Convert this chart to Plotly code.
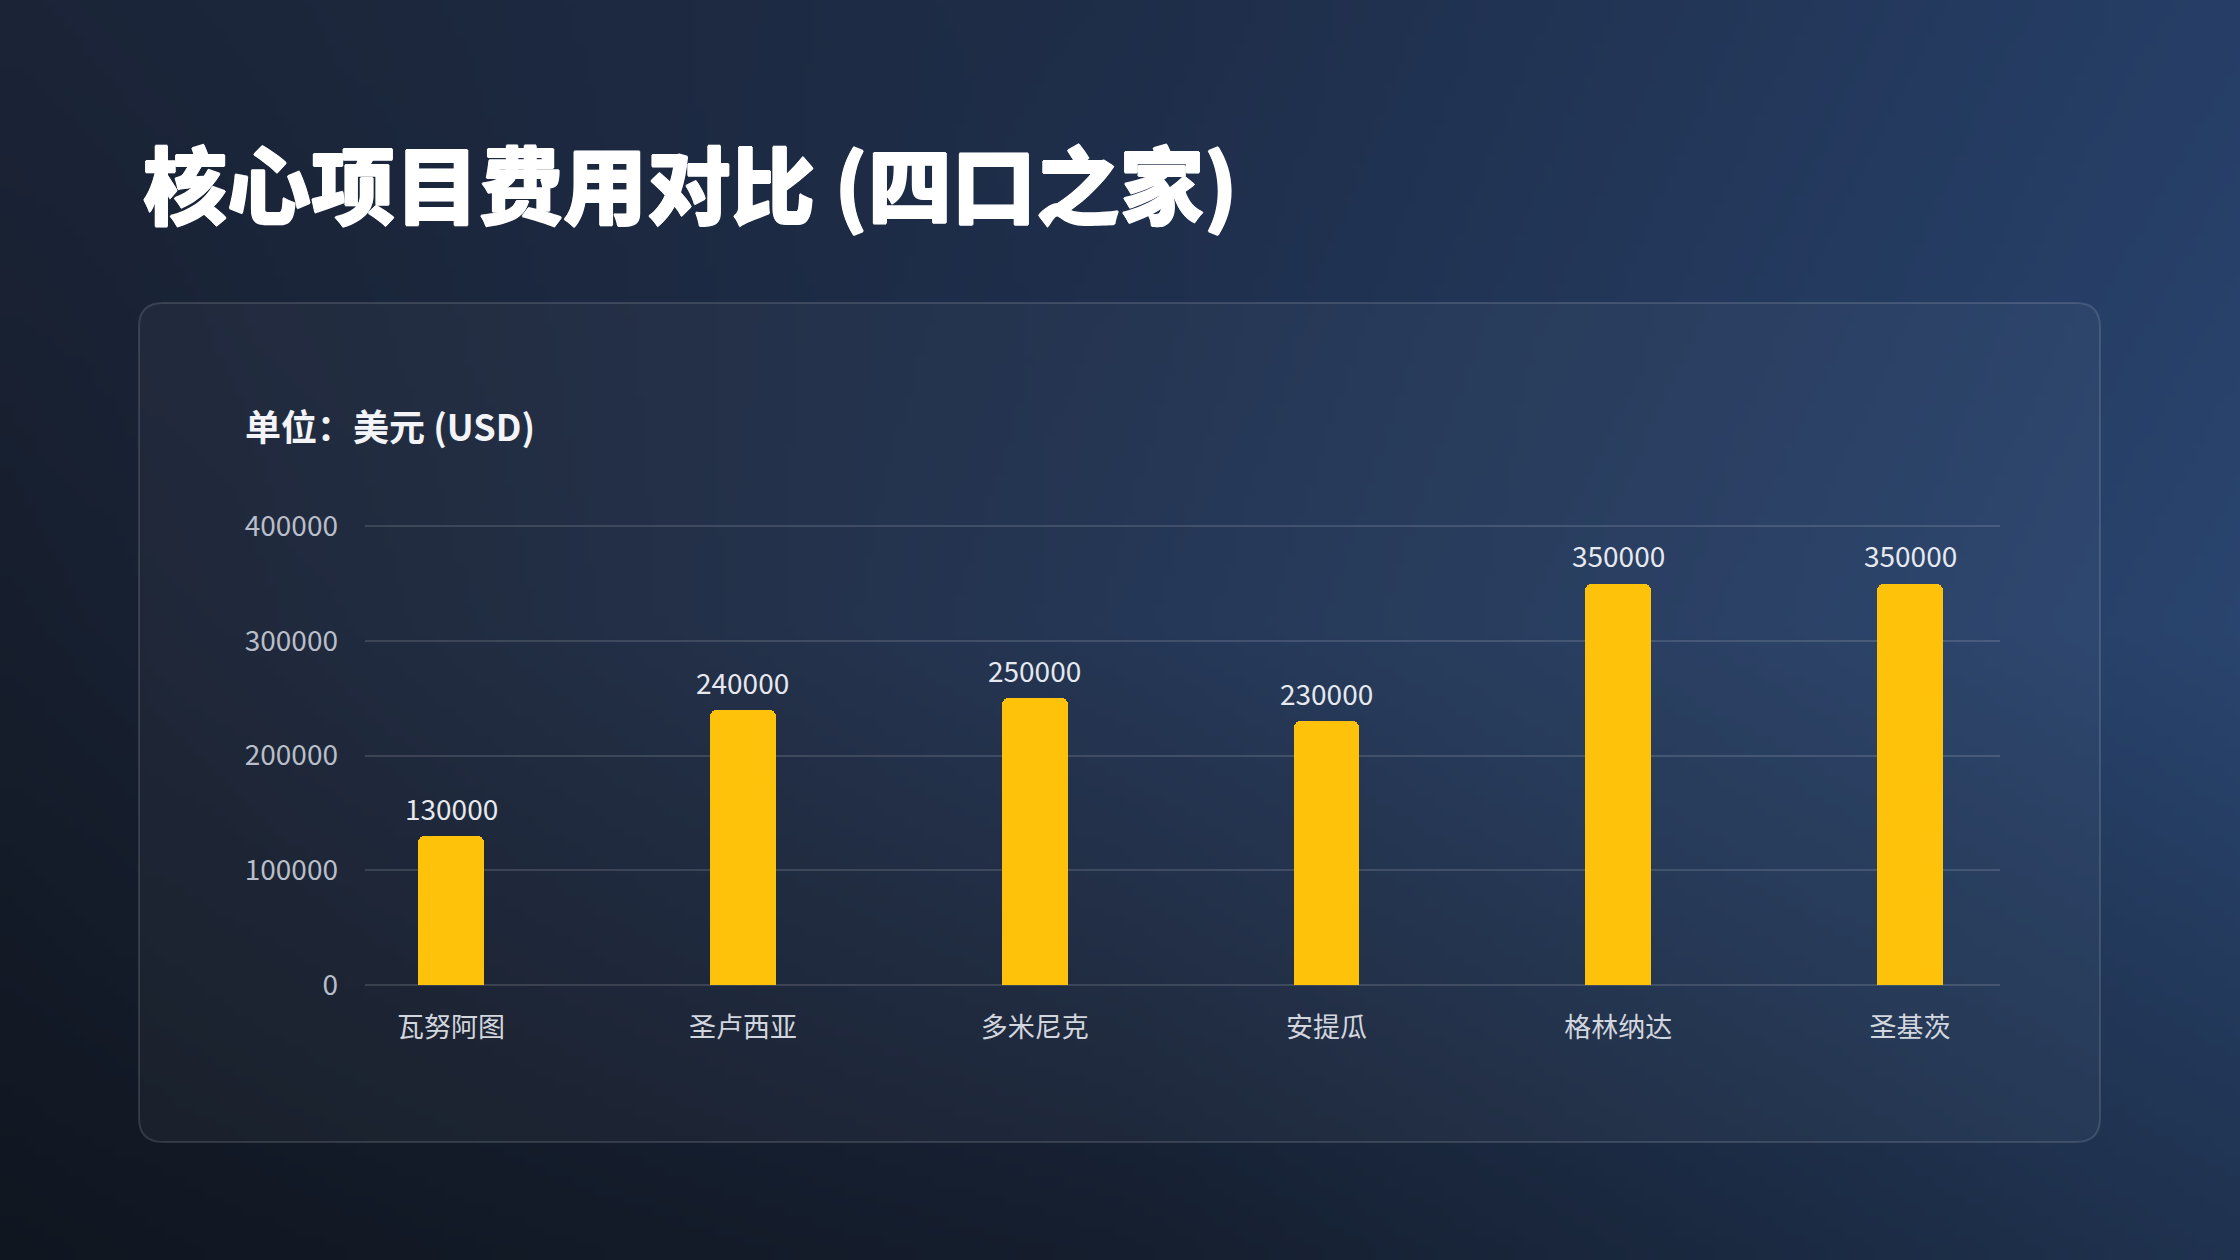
import base64
import struct
import zlib

import plotly.graph_objects as go

# ---- data -------------------------------------------------------------------
countries = ["瓦努阿图", "圣卢西亚", "多米尼克", "安提瓜", "格林纳达", "圣基茨"]
costs = [130000, 240000, 250000, 230000, 350000, 350000]
y_ticks = [0, 100000, 200000, 300000, 400000]

W, H = 2240, 1260
FONT = "Noto Sans CJK SC"


def px(x):
    return x / W


def py(y):
    return 1 - y / H


# ---- background gradient as a tiny png (no PIL around) -----------------------
grid = [
    [(0x1b, 0x24, 0x37), (0x1e, 0x2d, 0x48), (0x26, 0x3e, 0x66)],
    [(0x16, 0x1e, 0x2d), (0x1e, 0x30, 0x50), (0x29, 0x44, 0x6e)],
    [(0x10, 0x16, 0x20), (0x15, 0x1e, 0x2e), (0x1f, 0x32, 0x4f)],
]


def lerp(a, b, t):
    return tuple(a[k] + (b[k] - a[k]) * t for k in range(3))


def grad(u, v):
    # bilinear over the 3x3 grid
    gx, gy = u * 2, v * 2
    i, j = min(int(gx), 1), min(int(gy), 1)
    tx, ty = gx - i, gy - j
    top = lerp(grid[j][i], grid[j][i + 1], tx)
    bot = lerp(grid[j + 1][i], grid[j + 1][i + 1], tx)
    return tuple(int(round(c)) for c in lerp(top, bot, ty))


def png_uri(w, h):
    raw = bytearray()
    for j in range(h):
        raw.append(0)
        for i in range(w):
            raw.extend(grad(i / (w - 1), j / (h - 1)))

    def chunk(tag, data):
        body = tag + data
        return struct.pack(">I", len(data)) + body + struct.pack(">I", zlib.crc32(body) & 0xFFFFFFFF)

    png = b"\x89PNG\r\n\x1a\n"
    png += chunk(b"IHDR", struct.pack(">IIBBBBB", w, h, 8, 2, 0, 0, 0))
    png += chunk(b"IDAT", zlib.compress(bytes(raw), 9))
    png += chunk(b"IEND", b"")
    return "data:image/png;base64," + base64.b64encode(png).decode()


# ---- rounded panel path in paper coords --------------------------------------
def rounded_rect(x0, y0, x1, y1, r):
    rx, ry = r / W, r / H
    a, b, c, d = px(x0), py(y1), px(x1), py(y0)  # left, bottom, right, top
    return (
        f"M {a + rx},{d} L {c - rx},{d} Q {c},{d} {c},{d - ry} "
        f"L {c},{b + ry} Q {c},{b} {c - rx},{b} "
        f"L {a + rx},{b} Q {a},{b} {a},{b + ry} "
        f"L {a},{d - ry} Q {a},{d} {a + rx},{d} Z"
    )


fig = go.Figure()

fig.add_trace(go.Bar(
    x=list(range(len(countries))),
    y=costs,
    width=0.226,
    marker=dict(color="#FFC20A", cornerradius=7, line=dict(width=0)),
    hovertemplate="%{y}<extra></extra>",
    showlegend=False,
))

# value labels above bars
for i, v in enumerate(costs):
    fig.add_annotation(
        x=i, y=v, text=str(v), showarrow=False, yshift=28,
        font=dict(family=FONT, size=28, color="#e6e9ef"),
    )

# heavy title: bold + a hairline white outline to get closer to the black weight
fig.add_annotation(
    xref="paper", yref="paper", x=px(141), y=py(182),
    xanchor="left", yanchor="middle", showarrow=False,
    text="核心项目费用对比 (四口之家)",
    font=dict(
        family=FONT, size=84, color="#ffffff", weight=900,
        shadow="0.8px 0 0 #fff, -0.8px 0 0 #fff, 0 0.8px 0 #fff, 0 -0.8px 0 #fff",
    ),
)
fig.add_annotation(
    xref="paper", yref="paper", x=px(243), y=py(425),
    xanchor="left", yanchor="middle", showarrow=False,
    text="单位：美元 (USD)",
    font=dict(family=FONT, size=36, color="#f2f4f7", weight=700),
)

# pixel scale of the value axis: 0 -> 985px, 400000 -> 526px
pad = 2000
unit = (985 - 526) / 400000

fig.update_layout(
    autosize=True,
    margin=dict(l=0, r=0, t=0, b=0, pad=0),
    paper_bgcolor="#182234",
    plot_bgcolor="rgba(0,0,0,0)",
    images=[dict(
        source=png_uri(224, 126), xref="paper", yref="paper",
        x=0, y=1, sizex=1, sizey=1, xanchor="left", yanchor="top",
        sizing="stretch", layer="below",
    )],
    shapes=[dict(
        type="path", xref="paper", yref="paper", layer="below",
        path=rounded_rect(139, 303, 2100, 1142, 24),
        fillcolor="rgba(255,255,255,0.035)",
        line=dict(color="rgba(255,255,255,0.13)", width=2),
    )],
    xaxis=dict(
        domain=[px(365), px(2000)],
        range=[-0.295, 5.308],
        tickmode="array",
        tickvals=list(range(len(countries))),
        ticktext=countries,
        showgrid=False, zeroline=False, showline=False,
        ticks="", ticklabelstandoff=22,
        tickfont=dict(family=FONT, size=27, color="#d2d6de"),
        fixedrange=True, automargin=False,
    ),
    yaxis=dict(
        domain=[py(985 + pad * unit), py(526 - pad * unit)],
        range=[-pad, 400000 + pad],
        tickmode="array",
        tickvals=y_ticks,
        ticktext=[str(t) for t in y_ticks],
        showgrid=True, gridcolor="rgba(255,255,255,0.13)", gridwidth=2,
        zeroline=False, showline=False,
        ticks="", ticklabelstandoff=26,
        tickfont=dict(family=FONT, size=28, color="#b9bfca"),
        fixedrange=True, automargin=False,
    ),
    bargap=0,
)

fig.write_html(
    "out.html",
    config=dict(displayModeBar=False, responsive=True),
    default_width="100vw",
    default_height="100vh",
    post_script=(
        "document.documentElement.style.margin='0';"
        "document.body.style.margin='0';"
        "document.documentElement.style.overflow='hidden';"
        "document.body.style.overflow='hidden';"
    ),
)
